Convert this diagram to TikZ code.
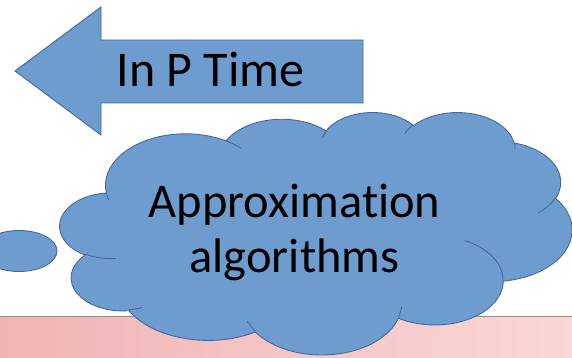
\documentclass[tikz,border=0pt]{standalone}
\usepackage{fontspec}
\setmainfont{Carlito}[Ligatures=NoCommon]
\definecolor{shapefill}{HTML}{6F9CCF}
\definecolor{shapeline}{HTML}{41699E}
\definecolor{barleft}{HTML}{F0B4B4}
\definecolor{barright}{HTML}{F9D7D6}
\definecolor{barline}{HTML}{9A8A8A}

% cloud bounding box (pt, measured downwards); cloud grid is 43.2 x 43.2
\newcommand\cldX{60}
\newcommand\cldY{111.7}
\newcommand\cldW{512}
\newcommand\cldH{242.4}
% move to a point of the cloud grid (drawn in an upward y frame)
\newcommand\cldmove[2]{%
  \pgfmathsetmacro\cpx{\cldX+#1/43.2*\cldW}%
  \pgfmathsetmacro\cpy{-(\cldY+#2/43.2*\cldH)}%
  \pgfpathmoveto{\pgfpoint{\cpx pt}{\cpy pt}}}
% elliptic arc: radii on the grid, start and sweep as angles seen on the
% square grid (turned into ellipse parameters before scaling)
\newcommand\cldarc[4]{%
  \pgfmathsetmacro\cts{atan2(#1*sin(#3),#2*cos(#3))}%
  \pgfmathsetmacro\cte{atan2(#1*sin(#3+#4),#2*cos(#3+#4))}%
  \pgfmathsetmacro\cdd{mod(\cte-\cts+720,360)}%
  \pgfmathsetmacro\crx{#1/43.2*\cldW}%
  \pgfmathsetmacro\cry{#2/43.2*\cldH}%
  \pgfmathsetmacro\cstart{0-\cts}%
  \pgfmathsetmacro\cend{0-\cts-\cdd}%
  \pgfpatharc{\cstart}{\cend}{\crx pt and \cry pt}%
}
\newcommand\cldcrease[6]{%
  \cldmove{#1}{#2}\cldarc{#3}{#4}{#5}{#6}\pgfusepath{stroke}}

\tikzset{
  blueshape/.style={fill=shapefill, draw=shapeline, line width=0.9pt, line join=miter},
  bigtext/.style={font=\fontsize{48.5}{55}\selectfont, text=black, inner sep=0pt}
}

\begin{document}
\begin{tikzpicture}[x=1pt, y=1pt, yscale=-1]
  \useasboundingbox (0,0) rectangle (572,358);

  % pink floor band
  \shade[left color=barleft, right color=barright] (0,316) rectangle (572,358);
  \draw[barline, line width=0.6pt] (0,316) -- (572,316);

  % small ellipse on the left
  \path[blueshape] (19,251) ellipse [x radius=38, y radius=20.5];

  % cloud: eleven puffs, then the creases between them
  \begin{scope}[yscale=-1]
  \pgfsetfillcolor{shapefill}
  \pgfsetstrokecolor{shapeline}
  \pgfsetlinewidth{0.9pt}
  \cldmove{3.900}{14.370}
  \cldarc{6.753}{9.190}{-190.4875}{123.7805}
  \cldarc{5.333}{7.267}{-144.1024}{89.9452}
  \cldarc{4.365}{5.945}{-145.8079}{99.7230}
  \cldarc{4.857}{6.595}{-130.9861}{117.2417}
  \cldarc{5.333}{7.273}{-78.7089}{109.0269}
  \cldarc{6.775}{9.220}{-46.2673}{130.2690}
  \cldarc{5.785}{7.867}{0.6250}{114.0333}
  \cldarc{6.752}{9.215}{22.4516}{115.1726}
  \cldarc{7.720}{10.543}{66.2426}{75.7110}
  \cldarc{4.360}{5.918}{-274.9421}{146.7356}
  \cldarc{4.345}{5.945}{-246.8285}{152.5189}
  \pgfpathclose
  \pgfusepath{fill,stroke}

  \cldcrease{4.693}{26.177}{4.345}{5.945}{86.7420}{26.4295}
  \cldcrease{6.928}{34.899}{4.360}{5.918}{73.6105}{11.4475}
  \cldcrease{16.478}{39.090}{6.752}{9.215}{137.6242}{14.0811}
  \cldcrease{28.827}{34.751}{6.752}{9.215}{6.4533}{15.9984}
  \cldcrease{34.129}{22.954}{5.785}{7.867}{-70.2924}{70.9174}
  \cldcrease{41.798}{15.354}{5.333}{7.273}{30.3180}{27.7515}
  \cldcrease{38.324}{5.426}{4.857}{6.595}{-13.7443}{14.8547}
  \cldcrease{29.078}{3.952}{4.857}{6.595}{-149.1815}{18.1954}
  \cldcrease{22.141}{4.720}{4.365}{5.945}{-163.4943}{17.6864}
  \cldcrease{14.000}{5.192}{6.753}{9.190}{-66.7070}{12.3194}
  \cldcrease{4.127}{15.789}{6.753}{9.190}{157.6544}{11.8582}
  \end{scope}

  \node[bigtext, align=center, anchor=base] (approx) at (294.5,272)
    {Approximation\\algorithms};

  % left-pointing block arrow
  \path[blueshape] (15,71) -- (101,7) -- (101,40) -- (363,40) -- (363,103)
    -- (101,103) -- (101,135) -- cycle;
  \node[bigtext, font=\fontsize{50}{55}\selectfont, anchor=base] (ptime)
    at (210.5,87) {In P Time};
\end{tikzpicture}
\end{document}
